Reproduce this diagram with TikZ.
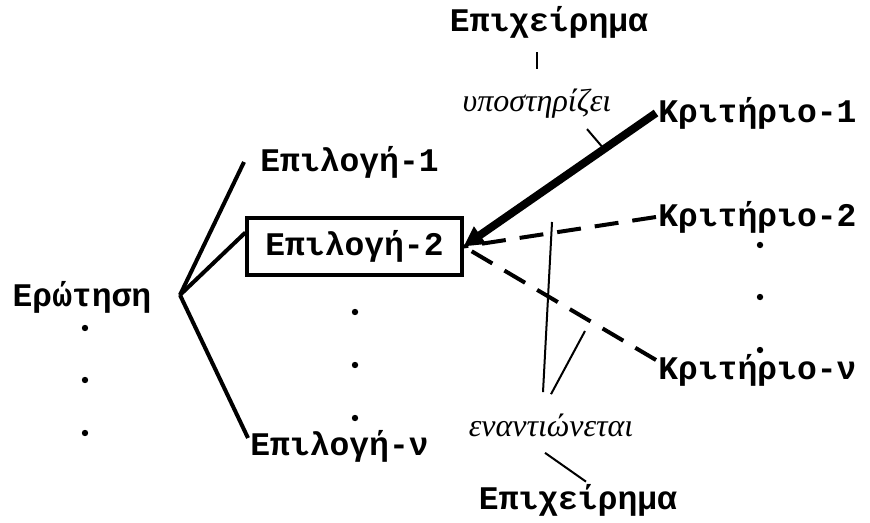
\documentclass[tikz,border=0pt]{standalone}
\usepackage{fontspec}
\newfontfamily\monofnt{Liberation Mono}
\newfontfamily\serifnt{Liberation Serif}
\usetikzlibrary{arrows.meta,calc}

\begin{document}
\begin{tikzpicture}[x=0.5pt, y=-0.5pt,
	every node/.style={font=\monofnt\bfseries\fontsize{16.5}{18}\selectfont, inner sep=1pt},
	verb/.style={font=\serifnt\itshape\fontsize{16}{18}\selectfont},
	branch/.style={line width=2pt},
	thinline/.style={line width=1pt},
	against/.style={line width=2pt, dash pattern=on 12pt off 7pt}]
	\useasboundingbox (0,0) rectangle (870,523);
	% question and options
	\node (erotisi) at (82,297) {Ερώτηση};
	\coordinate (q) at (180,295);
	\node[anchor=west] (ep1) at (258,162) {Επιλογή-1};
	\node[draw, line width=1.6pt, minimum width=107.5pt, minimum height=28.5pt] (ep2) at (354.5,246.5) {Επιλογή-2};
	\node[anchor=west] (epn) at (248,446) {Επιλογή-ν};
	\foreach \y in {328,380,433} {\fill (85,\y) circle (3.2);}
	\foreach \y in {312,365,418} {\fill (355,\y) circle (3.2);}
	\draw[branch] (q) -- ([xshift=-7pt]ep1.west);
	\draw[branch] (q) -- ([yshift=7pt]ep2.west);
	\draw[branch] (q) -- ([yshift=4pt]epn.west);
	% criteria
	\node[anchor=west] (kr1) at (656,113) {Κριτήριο-1};
	\node[anchor=west] (kr2) at (656,217) {Κριτήριο-2};
	\node[anchor=west] (krn) at (656,370) {Κριτήριο-ν};
	\foreach \y in {245,297,350} {\fill (760,\y) circle (3.2);}
	\draw[line width=4pt, -{Triangle[length=10pt,width=10pt]}] (kr1.west) -- (ep2.east);
	\draw[against] (kr2.west) -- (ep2.east);
	\draw[against] ([yshift=5pt]krn.west) -- (ep2.east);
	% arguments
	\node (arg1) at (549,22) {Επιχείρημα};
	\node[verb] (ypost) at (537,104) {υποστηρίζει};
	\coordinate (t1) at ($(kr1.west)!0.27!(ep2.east)$);
	\draw[line width=1.3pt, shorten <=9pt, shorten >=6pt] (ypost.north) -- (ypost.north |- arg1.south);
	\draw[thinline] ([xshift=25pt,yshift=-4pt]ypost.south) -- (t1);
	\node[verb] (enant) at (551,425) {εναντιώνεται};
	\node (arg2) at (578,500) {Επιχείρημα};
	\coordinate (c1) at (552,222);
	\coordinate (c2) at (585,331);
	\draw[thinline] ([xshift=-4pt,yshift=9.5pt]enant.north) -- (c1);
	\draw[thinline] ([yshift=8.5pt]enant.north) -- (c2);
	\draw[thinline] ([xshift=-3pt,yshift=-7pt]enant.south) -- ([xshift=4pt]arg2.north);
\end{tikzpicture}
\end{document}
